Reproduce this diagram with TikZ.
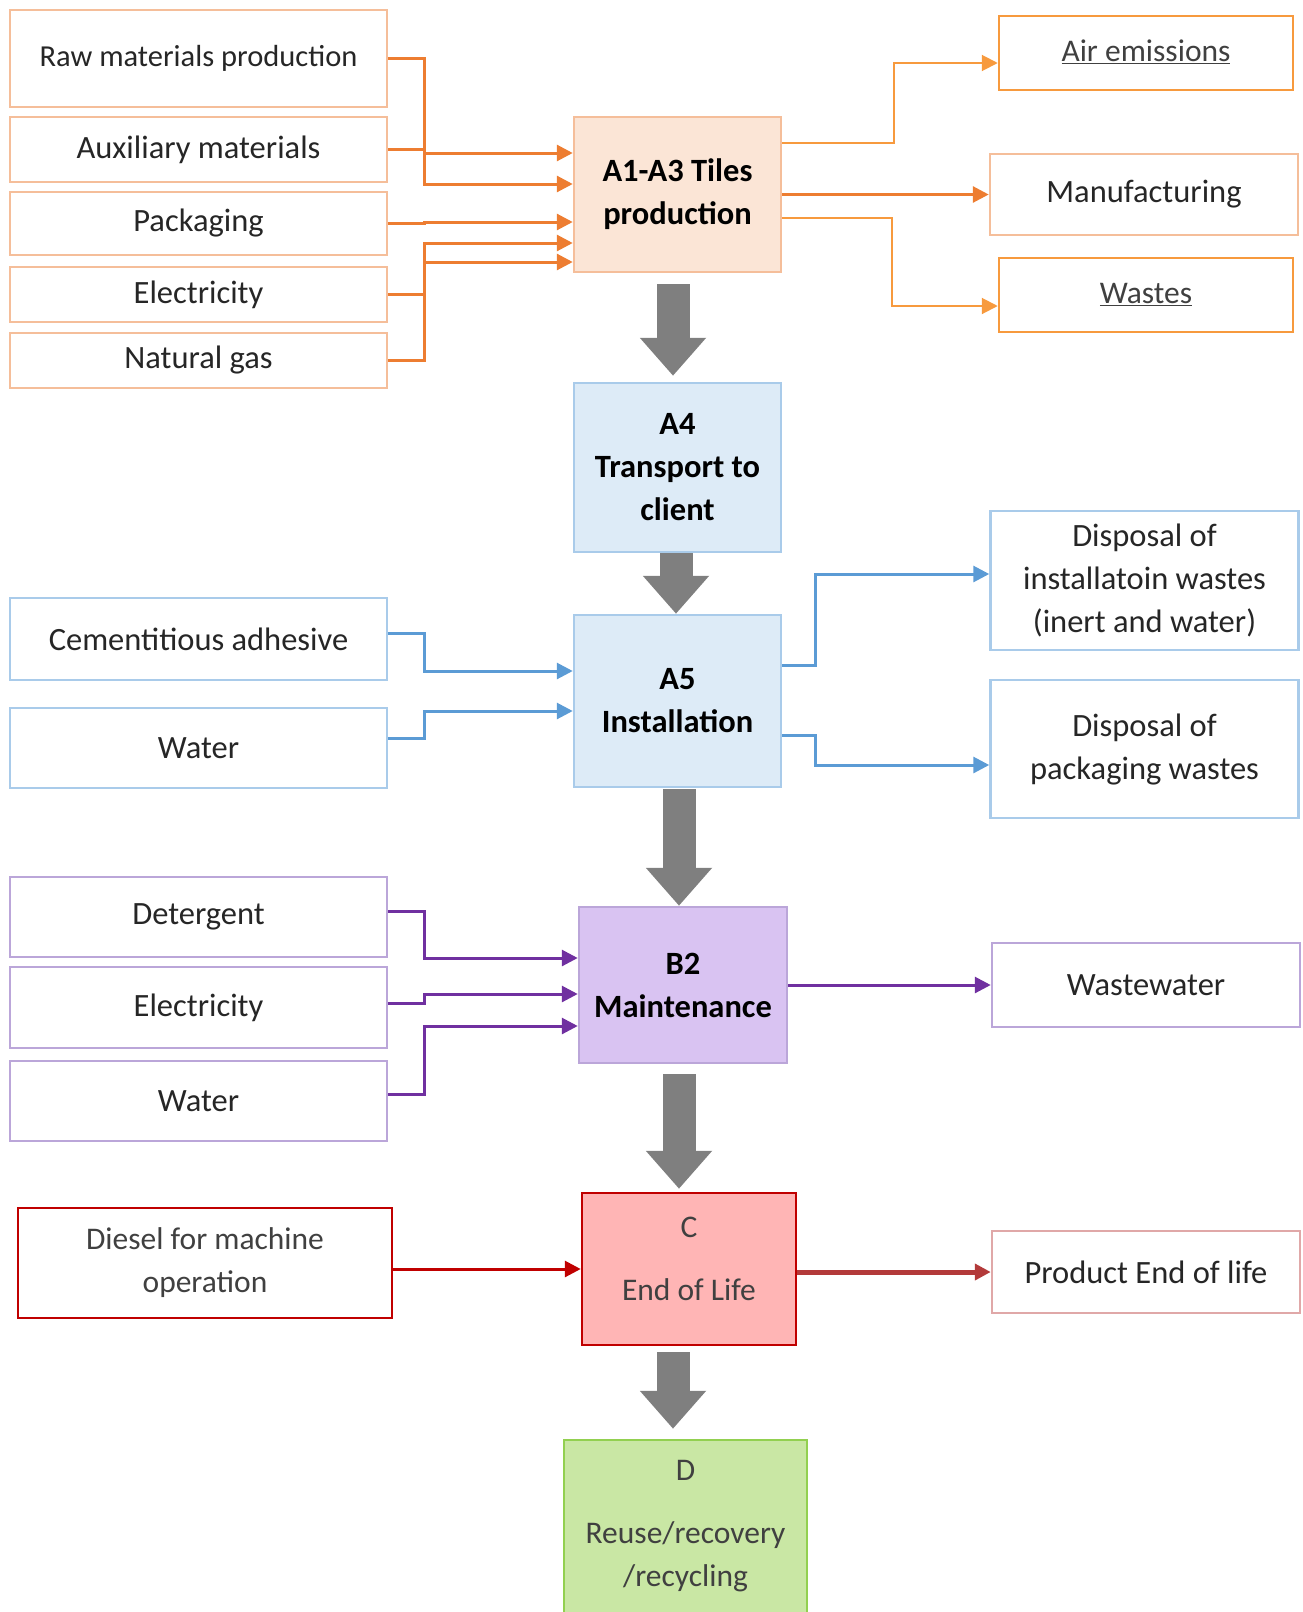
\documentclass[tikz,border=0pt]{standalone}
\usepackage{fontspec}
\setmainfont{Carlito}
\usepackage{xcolor}
\usetikzlibrary{arrows.meta}
\definecolor{txt}{HTML}{262626}
\definecolor{lighttxt}{HTML}{404040}
\definecolor{orline}{HTML}{ED7D31}
\definecolor{orbox}{HTML}{F5BE9A}
\definecolor{orfill}{HTML}{FBE5D6}
\definecolor{oremit}{HTML}{F79A3E}
\definecolor{blline}{HTML}{5B9BD5}
\definecolor{blbox}{HTML}{A9CBEA}
\definecolor{blfill}{HTML}{DDEBF7}
\definecolor{puline}{HTML}{7030A0}
\definecolor{pubox}{HTML}{BBA6D9}
\definecolor{pufill}{HTML}{D9C3F2}
\definecolor{redl}{HTML}{C00000}
\definecolor{redfill}{HTML}{FFB5B5}
\definecolor{prodbox}{HTML}{E0A8A8}
\definecolor{prodarr}{HTML}{B33A3A}
\definecolor{grline}{HTML}{92D050}
\definecolor{grfill}{HTML}{C9E7A4}
\definecolor{bigarr}{HTML}{7F7F7F}

\begin{document}
\begin{tikzpicture}[x=1pt, y=-1pt,
	every node/.style={font=\fontsize{32.5}{43}\selectfont, align=center, inner sep=0pt, text=txt},
	box/.style={draw=#1, line width=2.5pt, fill=white},
	lbox/.style={box=#1, minimum width=377pt},
	rbox/.style={box=#1, minimum width=308pt},
	stage/.style n args={2}{draw=#1, fill=#2, line width=2.5pt, font=\fontsize{32.5}{43}\selectfont\bfseries, text=black},
	lighttext/.style={text=lighttxt, font=\fontsize{31.5}{43}\selectfont},
	link/.style={draw=#1, line width=3pt, -{Triangle[length=16pt, width=16pt]}},
	flow/.style={draw=bigarr, line width=33pt, -{Triangle[length=38pt, width=64pt]}}]
	\clip (0,0) rectangle (1303,1612);

	\node[lbox=orbox, minimum height=97pt, font=\fontsize{30.5}{43}\selectfont] (raw) at (198.5,58.5) {Raw materials production};
	\node[lbox=orbox, minimum height=65pt] (aux) at (198.5,149.5) {Auxiliary materials};
	\node[lbox=orbox, minimum height=63pt] (pack) at (198.5,223.5) {Packaging};
	\node[lbox=orbox, minimum height=55pt] (elec) at (198.5,294.5) {Electricity};
	\node[lbox=orbox, minimum height=55pt] (gas) at (198.5,360.5) {Natural gas};
	\node[stage={orbox}{orfill}, minimum width=207pt, minimum height=155pt] (prod) at (677.5,194.5) {A1-A3 Tiles\\production};
	\node[box=oremit, minimum width=294pt, minimum height=74pt, lighttext] (air) at (1146,53) {\raisebox{4pt}{\underline{Air emissions}}};
	\node[rbox=orbox, minimum height=81pt] (manuf) at (1144,194.5) {Manufacturing};
	\node[box=oremit, minimum width=294pt, minimum height=74pt, lighttext] (wastes) at (1146,295) {\raisebox{4pt}{\underline{Wastes}}};

	\node[stage={blbox}{blfill}, minimum width=207pt, minimum height=169pt] (transp) at (677.5,467.5) {A4\\Transport to\\client};
	\node[stage={blbox}{blfill}, minimum width=207pt, minimum height=172pt] (inst) at (677.5,701) {A5\\Installation};
	\node[lbox=blbox, minimum height=82pt] (cement) at (198.5,639) {Cementitious adhesive};
	\node[lbox=blbox, minimum height=80pt] (watera) at (198.5,748) {Water};
	\node[rbox=blbox, minimum height=139pt] (dispinst) at (1144.5,580.5) {Disposal of\\installatoin wastes\\(inert and water)};
	\node[rbox=blbox, minimum height=138pt] (disppack) at (1144.5,749) {Disposal of\\packaging wastes};

	\node[stage={pubox}{pufill}, minimum width=208pt, minimum height=156pt] (maint) at (683,985) {B2\\Maintenance};
	\node[lbox=pubox, minimum height=80pt] (deterg) at (198.5,917) {Detergent};
	\node[lbox=pubox, minimum height=81pt] (elecb) at (198.5,1007.5) {Electricity};
	\node[lbox=pubox, minimum height=80pt] (waterb) at (198.5,1101) {Water};
	\node[rbox=pubox, minimum height=84pt] (wwater) at (1146,985) {Wastewater};

	\node[box=redl, minimum width=374pt, minimum height=110pt, lighttext] (diesel) at (205,1263) {Diesel for machine\\operation};
	\node[box=redl, fill=redfill, minimum width=214pt, minimum height=152pt] (eol) at (689,1269) {};
	\node[lighttext] (eoltext) at (689,1258.5) {C\\[20pt]End of Life};
	\node[rbox=prodbox, minimum height=82pt] (prodeol) at (1146,1272) {Product End of life};
	\node[box=grline, fill=grfill, minimum width=243pt, minimum height=185pt] (reuse) at (685.5,1532.5) {};
	\node[lighttext] (reusetext) at (685.5,1526.5) {D\\[20pt]Reuse/recovery\\/recycling};

	\draw[link=orline] (raw.east) -- ++(36,0) |- ([yshift=10.5pt]prod.west);
	\draw[link=orline] (aux.east) -- ++(36,0) |- ([yshift=41.5pt]prod.west);
	\draw[link=orline] (pack.east) -- ++(36,0) |- ([yshift=-27.5pt]prod.west);
	\draw[link=orline] (elec.east) -- ++(36,0) |- ([yshift=-48.5pt]prod.west);
	\draw[link=orline] (gas.east) -- ++(36,0) |- ([yshift=-67.5pt]prod.west);
	\draw[link=oremit, line width=2pt] ([yshift=51.5pt]prod.east) -- ++(112,0) |- ([yshift=-10pt]air.west);
	\draw[link=orline] (prod.east) -- (manuf.west);
	\draw[link=oremit, line width=2pt] ([yshift=-23.5pt]prod.east) -- ++(110,0) |- ([yshift=-11pt]wastes.west);

	\draw[link=blline] ([yshift=6pt]cement.east) -- ++(36,0) |- ([yshift=30pt]inst.west);
	\draw[link=blline] ([yshift=10pt]watera.east) -- ++(36,0) |- ([yshift=-10pt]inst.west);
	\draw[link=blline] ([yshift=36pt]inst.east) -- ++(33,0) |- ([yshift=6.5pt]dispinst.west);
	\draw[link=blline] ([yshift=-34pt]inst.east) -- ++(33,0) |- ([yshift=-16pt]disppack.west);

	\draw[link=puline] ([yshift=6pt]deterg.east) -- ++(36,0) |- ([yshift=27pt]maint.west);
	\draw[link=puline] ([yshift=4.5pt]elecb.east) -- ++(36,0) |- ([yshift=-9pt]maint.west);
	\draw[link=puline] ([yshift=7pt]waterb.east) -- ++(36,0) |- ([yshift=-41pt]maint.west);
	\draw[link=puline] (maint.east) -- (wwater.west);

	\draw[link=redl] (diesel.east |- eol.west) -- (eol.west);
	\draw[link=prodarr, line width=5pt] (eol.east |- prodeol.west) -- (prodeol.west);

	\draw[flow] ([xshift=-4.5pt,yshift=-11pt]prod.south) -- ([xshift=-4.5pt,yshift=6pt]transp.north);
	\draw[flow] ([xshift=-1.5pt]transp.south) -- ([xshift=-1.5pt]inst.north);
	\draw[flow] ([xshift=1.5pt,yshift=-1pt]inst.south) -- ([xshift=1.5pt]inst.south |- maint.north);
	\draw[flow] ([xshift=-4pt,yshift=-10pt]maint.south) -- ([xshift=-4pt,yshift=3pt]maint.south |- eol.north);
	\draw[flow] ([xshift=-16pt,yshift=-6pt]eol.south) -- ([xshift=-16pt,yshift=10pt]eol.south |- reuse.north);
\end{tikzpicture}
\end{document}
